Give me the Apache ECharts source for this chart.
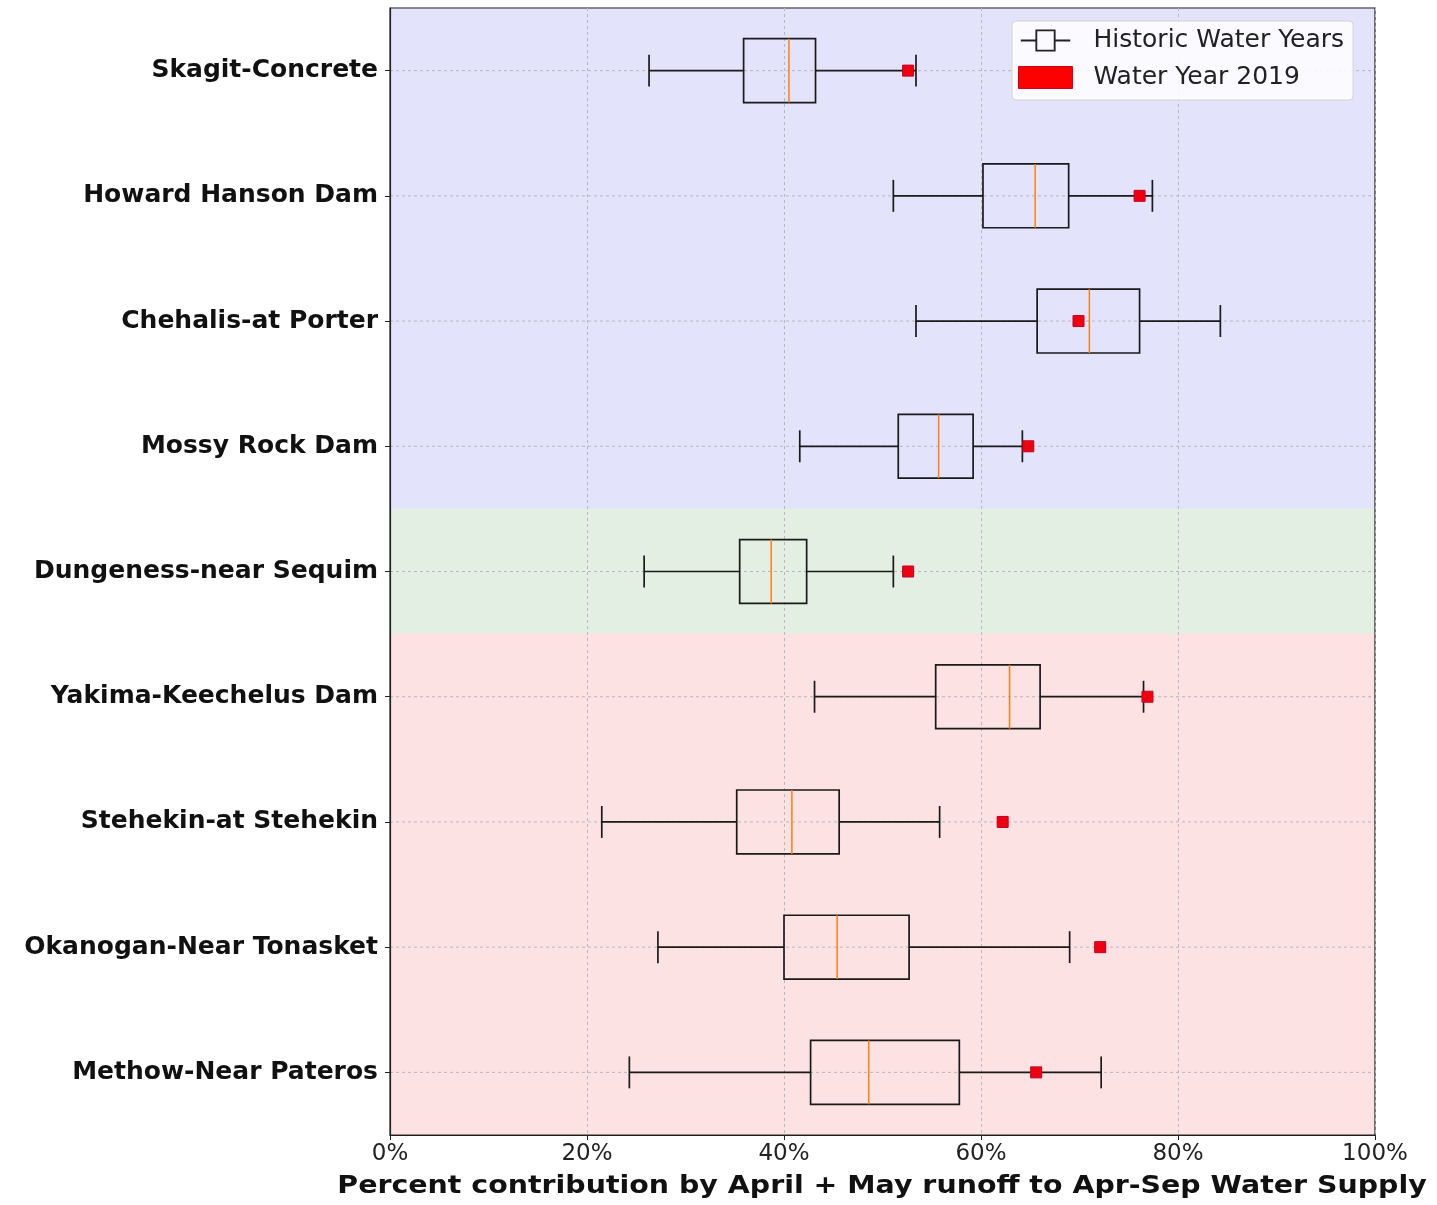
<!DOCTYPE html>
<html>
<head>
<meta charset="utf-8">
<title>April + May runoff contribution</title>
<script src="https://cdn.jsdelivr.net/npm/echarts@6/dist/echarts.min.js"></script>
<style>
  html, body { margin: 0; padding: 0; background: #ffffff; }
  #chart { width: 1437px; height: 1205px; }
</style>
</head>
<body>
<div id="chart"></div>
<script>
// Forecast points, top to bottom
const stations = [
  'Skagit-Concrete',
  'Howard Hanson Dam',
  'Chehalis-at Porter',
  'Mossy Rock Dam',
  'Dungeness-near Sequim',
  'Yakima-Keechelus Dam',
  'Stehekin-at Stehekin',
  'Okanogan-Near Tonasket',
  'Methow-Near Pateros'
];

// Historic water years: [lower whisker, Q1, median, Q3, upper whisker] in percent
const whiskerLow  = [26.3, 51.1, 53.4, 41.6, 25.8, 43.1, 21.5, 27.2, 24.3];
const quartile1   = [35.9, 60.2, 65.7, 51.6, 35.5, 55.4, 35.2, 40.0, 42.7];
const medians     = [40.5, 65.5, 71.0, 55.7, 38.7, 62.9, 40.8, 45.4, 48.6];
const quartile3   = [43.2, 68.9, 76.1, 59.2, 42.3, 66.0, 45.6, 52.7, 57.8];
const whiskerHigh = [53.4, 77.4, 84.3, 64.2, 51.1, 76.5, 55.8, 69.0, 72.2];

// Water year 2019 value for each station, in percent
const wy2019 = [52.6, 76.1, 69.9, 64.8, 52.6, 76.9, 62.2, 72.1, 65.6];

// Region shading for each station row
const regionOf = ['west', 'west', 'west', 'west', 'olympic', 'east', 'east', 'east', 'east'];
const regionColor = { west: '#e3e3fb', olympic: '#e3efe3', east: '#fde2e3' };

const xTicks = [0, 20, 40, 60, 80, 100];
const xTitle = 'Percent contribution by April + May runoff to Apr-Sep Water Supply';

const FONT = 'DejaVu Sans';

const boxData = stations.map((s, i) =>
  [s, whiskerLow[i], quartile1[i], medians[i], quartile3[i], whiskerHigh[i]]);
const pointData = stations.map((s, i) => [wy2019[i], s]);
const bandData = stations.map((s, i) => [s, regionOf[i]]);

const chart = echarts.init(document.getElementById('chart'), null, { renderer: 'canvas' });

const boxIcon = 'path://M0,11 L16,11 L16,13 L0,13 Z M38,11 L54,11 L54,13 L38,13 Z ' +
  'M16,0 L38,0 L38,24 L16,24 Z M18,2 L18,22 L36,22 L36,2 Z';

chart.setOption({
  animation: false,
  backgroundColor: '#ffffff',
  grid: {
    left: 390, right: 62, top: 8, bottom: 70,
    show: true, borderColor: '#222', borderWidth: 1.2, backgroundColor: 'transparent'
  },
  legend: {
    orient: 'vertical',
    left: 1012, top: 21,
    padding: [7, 9, 10, 6],
    itemGap: 12,
    itemWidth: 54, itemHeight: 22,
    backgroundColor: 'rgba(255,255,255,0.85)',
    borderColor: '#d3d3d3', borderWidth: 1, borderRadius: 4,
    textStyle: { fontFamily: FONT, fontSize: 25, color: '#222', padding: [0, 0, 0, 16] },
    data: [
      { name: 'Historic Water Years', icon: boxIcon, itemStyle: { color: '#222' } },
      { name: 'Water Year 2019', icon: 'rect', itemStyle: { color: '#ff0000', borderColor: '#d00018', borderWidth: 1 } }
    ],
    selectedMode: false
  },
  // axis title, drawn slightly wide
  graphic: [{
    type: 'text',
    x: 882, y: 1187,
    scaleX: 1.185,
    silent: true,
    style: {
      text: xTitle,
      font: 'bold 24px "DejaVu Sans"',
      fill: '#111',
      textAlign: 'center',
      textVerticalAlign: 'middle'
    }
  }],
  xAxis: {
    type: 'value',
    min: xTicks[0], max: xTicks[xTicks.length - 1], interval: 20,
    axisLine: { show: true, lineStyle: { color: '#222', width: 1.2 } },
    axisTick: { show: true, length: 5, lineStyle: { color: '#222' } },
    axisLabel: { fontFamily: FONT, fontSize: 23, color: '#222', margin: 8, formatter: '{value}%' },
    splitLine: { show: true, lineStyle: { color: '#b8b8b8', type: [3, 3], width: 1 } }
  },
  yAxis: {
    type: 'category',
    data: stations,
    inverse: true,
    axisLine: { show: true, lineStyle: { color: '#222', width: 1.2 } },
    axisTick: { show: true, alignWithLabel: true, length: 5, lineStyle: { color: '#222' } },
    axisLabel: { fontFamily: FONT, fontSize: 25, fontWeight: 'bold', color: '#111', margin: 12 },
    splitLine: { show: false }
  },
  series: [
    {
      // shaded region bands with a dotted guide line through each row
      type: 'custom',
      name: 'bands',
      z: -1,
      silent: true,
      encode: { y: 0 },
      data: bandData,
      renderItem: function (params, api) {
        const idx = params.dataIndex;
        const left = api.coord([xTicks[0], idx]);
        const right = api.coord([xTicks[xTicks.length - 1], idx]);
        const h = api.size([0, 1])[1];
        return {
          type: 'group',
          children: [
            {
              type: 'rect',
              shape: { x: left[0], y: left[1] - h / 2 - 0.5, width: right[0] - left[0], height: h + 1 },
              style: { fill: regionColor[regionOf[idx]] }
            },
            {
              type: 'line',
              shape: { x1: left[0], y1: left[1], x2: right[0], y2: right[1] },
              style: { stroke: '#b8b8b8', lineWidth: 1, lineDash: [3, 3] }
            }
          ]
        };
      }
    },
    {
      type: 'custom',
      name: 'Historic Water Years',
      itemStyle: { color: '#222' },
      encode: { y: 0, x: [1, 2, 3, 4, 5] },
      data: boxData,
      z: 3,
      renderItem: function (params, api) {
        const cat = api.value(0);
        const lo = api.coord([api.value(1), cat]);
        const q1 = api.coord([api.value(2), cat]);
        const md = api.coord([api.value(3), cat]);
        const q3 = api.coord([api.value(4), cat]);
        const hi = api.coord([api.value(5), cat]);
        const h = api.size([0, 1])[1];
        const half = h * 0.255;
        const cap = half / 2;
        const y = lo[1];
        const ln = { stroke: '#1a1a1a', lineWidth: 1.7, fill: null };
        return {
          type: 'group',
          children: [
            { type: 'line', shape: { x1: lo[0], y1: y, x2: q1[0], y2: y }, style: ln },
            { type: 'line', shape: { x1: q3[0], y1: y, x2: hi[0], y2: y }, style: ln },
            { type: 'line', shape: { x1: lo[0], y1: y - cap, x2: lo[0], y2: y + cap }, style: ln },
            { type: 'line', shape: { x1: hi[0], y1: y - cap, x2: hi[0], y2: y + cap }, style: ln },
            { type: 'rect', shape: { x: q1[0], y: y - half, width: q3[0] - q1[0], height: 2 * half },
              style: { stroke: '#1a1a1a', lineWidth: 1.7, fill: 'transparent' } },
            { type: 'line', shape: { x1: md[0], y1: y - half, x2: md[0], y2: y + half },
              style: { stroke: '#ff7f0e', lineWidth: 1.5 } }
          ]
        };
      }
    },
    {
      type: 'scatter',
      name: 'Water Year 2019',
      symbol: 'rect',
      symbolSize: 11,
      z: 4,
      itemStyle: { color: '#ee0010', borderColor: '#c00020', borderWidth: 1, opacity: 1 },
      data: pointData
    }
  ]
});
</script>
</body>
</html>
